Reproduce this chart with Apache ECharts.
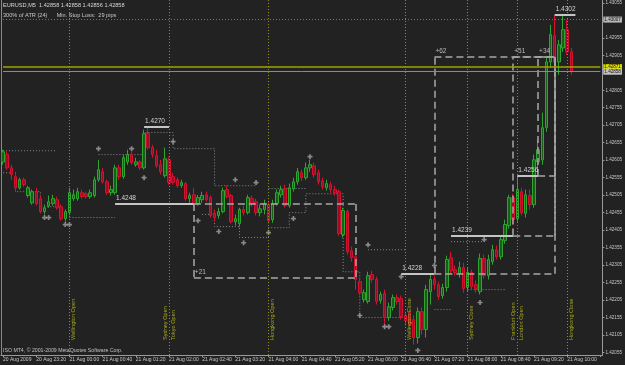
<!DOCTYPE html>
<html><head><meta charset="utf-8">
<script src="https://cdn.jsdelivr.net/npm/echarts@6/dist/echarts.min.js"></script>
<style>html,body{margin:0;padding:0;background:#222;}#c{width:625px;height:365px;}</style>
</head><body><div id="c"></div>
<script>
// ---- data ----
const opens = [1.42600,1.42621,1.42583,1.42558,1.42526,1.42549,1.42504,1.42483,1.42515,1.42495,1.42458,1.42475,1.42481,1.42492,1.42472,1.42438,1.42455,1.42495,1.42495,1.42512,1.42509,1.42501,1.42504,1.42549,1.42572,1.42543,1.42512,1.42512,1.42583,1.42558,1.42600,1.42621,1.42592,1.42600,1.42583,1.42681,1.42641,1.42618,1.42592,1.42561,1.42606,1.42558,1.42549,1.42532,1.42538,1.42495,1.42506,1.42481,1.42492,1.42506,1.42498,1.42453,1.42447,1.42458,1.42521,1.42504,1.42429,1.42424,1.42464,1.42455,1.42495,1.42486,1.42455,1.42464,1.42478,1.42435,1.42481,1.42506,1.42523,1.42475,1.42523,1.42543,1.42569,1.42555,1.42583,1.42589,1.42569,1.42546,1.42526,1.42535,1.42521,1.42515,1.42392,1.42458,1.42346,1.42329,1.42258,1.42206,1.42201,1.42278,1.42264,1.42204,1.42224,1.42155,1.42184,1.42212,1.42209,1.42161,1.42169,1.42149,1.42098,1.42172,1.42121,1.42229,1.42264,1.42249,1.42218,1.42241,1.42326,1.42292,1.42281,1.42298,1.42241,1.42284,1.42249,1.42229,1.42324,1.42275,1.42315,1.42349,1.42329,1.42375,1.42418,1.42498,1.42438,1.42515,1.42453,1.42504,1.42478,1.42600,1.42606,1.42698,1.42886,1.42961,1.42886,1.42926,1.42978,1.42915];
const closes = [1.42629,1.42583,1.42564,1.42526,1.42549,1.42535,1.42526,1.42515,1.42481,1.42458,1.42469,1.42486,1.42495,1.42469,1.42438,1.42458,1.42512,1.42506,1.42515,1.42501,1.42501,1.42512,1.42549,1.42578,1.42543,1.42512,1.42521,1.42583,1.42558,1.42612,1.42621,1.42598,1.42600,1.42583,1.42681,1.42641,1.42621,1.42589,1.42572,1.42609,1.42541,1.42541,1.42532,1.42541,1.42495,1.42504,1.42478,1.42498,1.42504,1.42492,1.42447,1.42441,1.42458,1.42518,1.42501,1.42429,1.42438,1.42464,1.42455,1.42498,1.42481,1.42455,1.42466,1.42481,1.42432,1.42481,1.42512,1.42521,1.42475,1.42526,1.42543,1.42572,1.42555,1.42583,1.42592,1.42564,1.42543,1.42529,1.42538,1.42521,1.42512,1.42395,1.42461,1.42343,1.42326,1.42264,1.42226,1.42226,1.42275,1.42264,1.42201,1.42221,1.42155,1.42186,1.42212,1.42201,1.42158,1.42146,1.42135,1.42098,1.42172,1.42121,1.42235,1.42264,1.42249,1.42215,1.42241,1.42321,1.42289,1.42284,1.42298,1.42238,1.42284,1.42244,1.42238,1.42324,1.42275,1.42321,1.42349,1.42329,1.42378,1.42421,1.42498,1.42435,1.42521,1.42455,1.42506,1.42478,1.42606,1.42635,1.42698,1.42886,1.42964,1.42884,1.42935,1.42978,1.42915,1.42858];
const lows = [1.42592,1.42578,1.42549,1.42515,1.42521,1.42529,1.42498,1.42478,1.42475,1.42453,1.42450,1.42469,1.42475,1.42464,1.42432,1.42429,1.42447,1.42489,1.42489,1.42495,1.42495,1.42495,1.42498,1.42543,1.42538,1.42506,1.42504,1.42506,1.42549,1.42552,1.42592,1.42592,1.42586,1.42578,1.42578,1.42635,1.42612,1.42583,1.42564,1.42555,1.42535,1.42535,1.42526,1.42526,1.42489,1.42483,1.42472,1.42475,1.42483,1.42486,1.42441,1.42429,1.42438,1.42453,1.42495,1.42424,1.42418,1.42415,1.42447,1.42450,1.42472,1.42447,1.42444,1.42450,1.42424,1.42426,1.42475,1.42498,1.42469,1.42469,1.42515,1.42535,1.42546,1.42549,1.42572,1.42555,1.42535,1.42521,1.42518,1.42512,1.42504,1.42389,1.42384,1.42335,1.42315,1.42235,1.42218,1.42198,1.42195,1.42255,1.42192,1.42195,1.42135,1.42146,1.42175,1.42192,1.42149,1.42132,1.42121,1.42078,1.42081,1.42106,1.42098,1.42192,1.42235,1.42206,1.42209,1.42229,1.42281,1.42275,1.42269,1.42226,1.42229,1.42235,1.42226,1.42221,1.42266,1.42264,1.42306,1.42321,1.42321,1.42366,1.42409,1.42421,1.42429,1.42447,1.42441,1.42464,1.42469,1.42564,1.42592,1.42686,1.42869,1.42869,1.42849,1.42915,1.42906,1.42849];
const highs = [1.42635,1.42629,1.42592,1.42572,1.42555,1.42555,1.42532,1.42521,1.42526,1.42504,1.42478,1.42504,1.42506,1.42501,1.42478,1.42464,1.42526,1.42521,1.42526,1.42521,1.42515,1.42521,1.42558,1.42606,1.42583,1.42549,1.42532,1.42592,1.42592,1.42621,1.42635,1.42629,1.42612,1.42606,1.42692,1.42700,1.42649,1.42635,1.42606,1.42641,1.42615,1.42569,1.42555,1.42549,1.42543,1.42512,1.42526,1.42506,1.42515,1.42515,1.42504,1.42464,1.42469,1.42526,1.42532,1.42509,1.42450,1.42469,1.42475,1.42506,1.42504,1.42495,1.42478,1.42492,1.42486,1.42492,1.42521,1.42532,1.42535,1.42538,1.42555,1.42583,1.42578,1.42598,1.42606,1.42598,1.42578,1.42555,1.42549,1.42543,1.42532,1.42521,1.42469,1.42464,1.42358,1.42340,1.42269,1.42235,1.42286,1.42289,1.42272,1.42229,1.42235,1.42198,1.42221,1.42221,1.42218,1.42172,1.42178,1.42161,1.42184,1.42184,1.42249,1.42278,1.42275,1.42258,1.42252,1.42332,1.42343,1.42304,1.42315,1.42312,1.42298,1.42292,1.42261,1.42338,1.42335,1.42335,1.42363,1.42361,1.42390,1.42435,1.42506,1.42509,1.42560,1.42526,1.42521,1.42521,1.42621,1.42664,1.42741,1.42898,1.42992,1.43020,1.42949,1.43018,1.43006,1.42926];

const xTickLabels = ['20 Aug 2009','20 Aug 23:20','21 Aug 00:00','21 Aug 00:40','21 Aug 01:20','21 Aug 02:00','21 Aug 02:40','21 Aug 03:20','21 Aug 04:00','21 Aug 04:40','21 Aug 05:20','21 Aug 06:00','21 Aug 06:40','21 Aug 07:20','21 Aug 08:00','21 Aug 08:40','21 Aug 09:20','21 Aug 10:00'];
const yTickLabels = ['1.42055','1.42105','1.42155','1.42205','1.42255','1.42305','1.42355','1.42405','1.42455','1.42505','1.42555','1.42605','1.42655','1.42705','1.42755','1.42805','1.42855','1.42905','1.42955','1.43005','1.43055'];

const levelTexts = ['1.4270','1.4248','1.4228','1.4239','1.4256','1.4302'];
const levelPrices = [1.4270,1.4248,1.4228,1.4239,1.4256,1.4302];
const levelFrom = [34,27,96,108,124,133];
const levelTo = [40,46,104,123,129,138];

const boxTexts = ['+21','+62','+51','+34'];
const boxFrom = [46,104,123,129];
const boxTo = [85,133,133,133];
const boxStartPrice = [1.4248,1.4228,1.4239,1.4256];
const boxEndPrice = [1.4227,1.4290,1.4290,1.4290];

const sessionNames = ['Wellington Open','Sydney Open','Tokyo Open','Hongkong Open','Wellington Close','Sydney Close','Frankfurt Open','London Open','Hongkong Close'];
const sessionBars = [16,40,40,64,97,112,124,124,136];

const fractalBars = [10,11,15,16,23,31,34,41,47,52,56,58,61,64,70,74,86,88,92,93,96,100,104,115,116];
const fractalPrices = [1.42441,1.42441,1.42421,1.42421,1.42638,1.42638,1.42555,1.42658,1.42432,1.42401,1.42549,1.42369,1.42541,1.42398,1.42438,1.42615,1.42161,1.42363,1.42129,1.42129,1.42272,1.42061,1.42304,1.42198,1.42378];

// trailing stop steps: [fromBar, toBar, price]
const lowerStops = [[0,3,1.42569],[3,9,1.42515],[9,13,1.42472],[16,26,1.42441],[48,51,1.42450],[51,57,1.42415],[57,64,1.42384],[64,69,1.42412],[69,73,1.42455],[73,81,1.42509],[82,85,1.42286],[86,96,1.42155],[104,107,1.42178],[112,120,1.42235]];
const upperStops = [[0,12,1.42632],[23,33,1.42621],[34,40,1.42684],[41,50,1.42638],[51,60,1.42532],[64,72,1.42524],[88,96,1.42349],[108,115,1.42372]];

const rangeHigh = 1.43007;
const yellowLevel = 1.42871;
const bidPrice = 1.42858;

const headerLine1 = 'EURUSD,M5  1.42858 1.42858 1.42856 1.42858';
const headerLine2 = '300% of ATR (24)      Min. Stop Loss:  29 pips';
const footerText = 'ISO MT4, \u00a9 2001-2009 MetaQuotes Software Corp.';

// ---- build ----
const N = 145;
const categories = [];
for (let i = 0; i < N; i++) {
  const m = 22 * 60 + 40 + 5 * i;
  const d = m >= 1440 ? 21 : 20;
  const mm = m % 1440;
  categories.push(d + ' Aug ' + String(Math.floor(mm / 60)).padStart(2, '0') + ':' + String(mm % 60).padStart(2, '0'));
}
const candles = opens.map((o, i) => [o, closes[i], lows[i], highs[i]]);
const yTickValues = yTickLabels.map(Number);
function stepsToSeries(segs) {
  const arr = new Array(N).fill(null);
  segs.forEach(([a, b, p]) => { for (let i = a; i <= b; i++) arr[i] = p; });
  return arr;
}

const FONT = 'Liberation Sans, Arial, sans-serif';
const levelStyle = {color: '#c4c4c4', width: 2, type: 'solid'};
const boxStyle = {color: '#a8a8a8', width: 1.5, type: [7, 4]};
const textLbl = (t) => ({show: true, formatter: t, position: 'insideStartTop', distance: [1, 2], color: '#d4d4d4', fontSize: 6.5, fontFamily: FONT});

const objLines = [];
levelTexts.forEach((t, k) => {
  objLines.push([{coord: [levelFrom[k], levelPrices[k]], lineStyle: levelStyle, label: textLbl(t)}, {coord: [levelTo[k], levelPrices[k]]}]);
});
boxTexts.forEach((t, k) => {
  const a = boxFrom[k], b = boxTo[k], p0 = boxStartPrice[k], p1 = boxEndPrice[k];
  objLines.push([{coord: [a, p0], lineStyle: boxStyle, label: {show: false}}, {coord: [b, p0]}]);
  objLines.push([{coord: [a, p1], lineStyle: boxStyle, label: Object.assign(textLbl(t), {color: '#bbbbbb'})}, {coord: [b, p1]}]);
  objLines.push([{coord: [a, p0], lineStyle: boxStyle, label: {show: false}}, {coord: [a, p1]}]);
  objLines.push([{coord: [b, p0], lineStyle: boxStyle, label: {show: false}}, {coord: [b, p1]}]);
});
// full-width horizontal lines with an axis-side price box
const axisBox = (bg, txt) => ({show: true, position: 'end', distance: 3, backgroundColor: bg, color: '#111', fontSize: 4.6, fontFamily: FONT, padding: [1, 1, 0, 1], formatter: txt});
[[rangeHigh, {color: '#7a7a7a', width: 1, type: [1, 2]}, '#b8b8b8'],
 [yellowLevel, {color: '#a2a200', width: 1.5, type: 'solid'}, '#dede00'],
 [bidPrice, {color: '#8a8a8a', width: 1, type: 'solid'}, '#c4c4c4']].forEach(([p, st, bg]) => {
  objLines.push([{coord: [0, p], lineStyle: st, label: axisBox(bg, p.toFixed(5))}, {coord: [N - 1, p]}]);
});

const sessLines = sessionNames.map((nm, k) => {
  const shared = sessionBars.filter(b => b === sessionBars[k]).length > 1;
  const first = sessionBars.indexOf(sessionBars[k]) === k;
  const pos = shared && first ? 'insideStartTop' : 'insideStartBottom';
  return {xAxis: sessionBars[k], lineStyle: {color: '#8e8e14', width: 1, type: [1, 2]},
    label: {show: true, formatter: nm, position: pos, distance: [15, 1], color: '#a9a91c', fontSize: 5.6, fontFamily: FONT}};
});

const chart = echarts.init(document.getElementById('c'), null, {renderer: 'canvas'});
chart.setOption({
  animation: false,
  backgroundColor: '#222222',
  title: [
    {text: headerLine1, subtext: headerLine2, left: 3, top: 2, itemGap: 4, padding: 0,
     textStyle: {fontSize: 5.6, color: '#d8d8d8', fontWeight: 'normal', fontFamily: FONT},
     subtextStyle: {fontSize: 5.6, color: '#c8c8c8', fontFamily: FONT}},
    {text: footerText, left: 3, top: 348, padding: 0,
     textStyle: {fontSize: 5.2, color: '#c0c0c0', fontWeight: 'normal', fontFamily: FONT}}
  ],
  grid: {left: 1, right: 21, top: 0, bottom: 10},
  xAxis: {
    type: 'category', data: categories, boundaryGap: true,
    axisLine: {lineStyle: {color: '#9a9a9a'}},
    axisTick: {show: true, alignWithLabel: true, interval: (i) => i % 8 === 0, length: 2, lineStyle: {color: '#9a9a9a'}},
    axisLabel: {interval: (i) => i % 8 === 0, formatter: (v, i) => xTickLabels[i / 8], fontSize: 5, color: '#c8c8c8', align: 'left', margin: 2, fontFamily: FONT},
    splitLine: {show: false}
  },
  yAxis: [{
    type: 'value', position: 'right', min: 1.42048, max: 1.43063, scale: true,
    axisLine: {show: true, lineStyle: {color: '#9a9a9a'}},
    axisTick: {show: true, length: 2, customValues: yTickValues, lineStyle: {color: '#9a9a9a'}},
    axisLabel: {customValues: yTickValues, formatter: (v) => v.toFixed(5), fontSize: 4.6, color: '#c8c8c8', margin: 3, fontFamily: FONT},
    splitLine: {show: false}
  }, {
    type: 'value', position: 'left', min: 1.42048, max: 1.43063,
    axisLine: {show: true, lineStyle: {color: '#8a8a8a'}}, axisTick: {show: false}, axisLabel: {show: false}, splitLine: {show: false}
  }],
  series: [
    {
      type: 'line', data: stepsToSeries(lowerStops), step: 'end', showSymbol: false, silent: true, connectNulls: false,
      lineStyle: {color: '#8a8a8a', width: 1, type: [1, 2]}, z: 1
    },
    {
      type: 'line', data: stepsToSeries(upperStops), step: 'end', showSymbol: false, silent: true, connectNulls: false,
      lineStyle: {color: '#8a8a8a', width: 1, type: [1, 2]}, z: 1
    },
    {
      type: 'candlestick', data: candles, barWidth: 3, z: 2,
      itemStyle: {color: '#175f17', color0: '#9c0c26', borderColor: '#2ea52e', borderColor0: '#d4122f', borderWidth: 1},
      markLine: {silent: true, symbol: ['none', 'none'], animation: false, data: sessLines}
    },
    {
      type: 'scatter', data: fractalBars.map((b, k) => [b, fractalPrices[k]]),
      symbol: 'path://M2,0h2v2h2v2h-2v2h-2v-2h-2v-2h2z', symbolSize: 5,
      itemStyle: {color: '#a4a4a4'}, silent: true, z: 3,
      markLine: {silent: true, symbol: ['none', 'none'], animation: false, data: objLines}
    }
  ]
});
</script></body></html>
